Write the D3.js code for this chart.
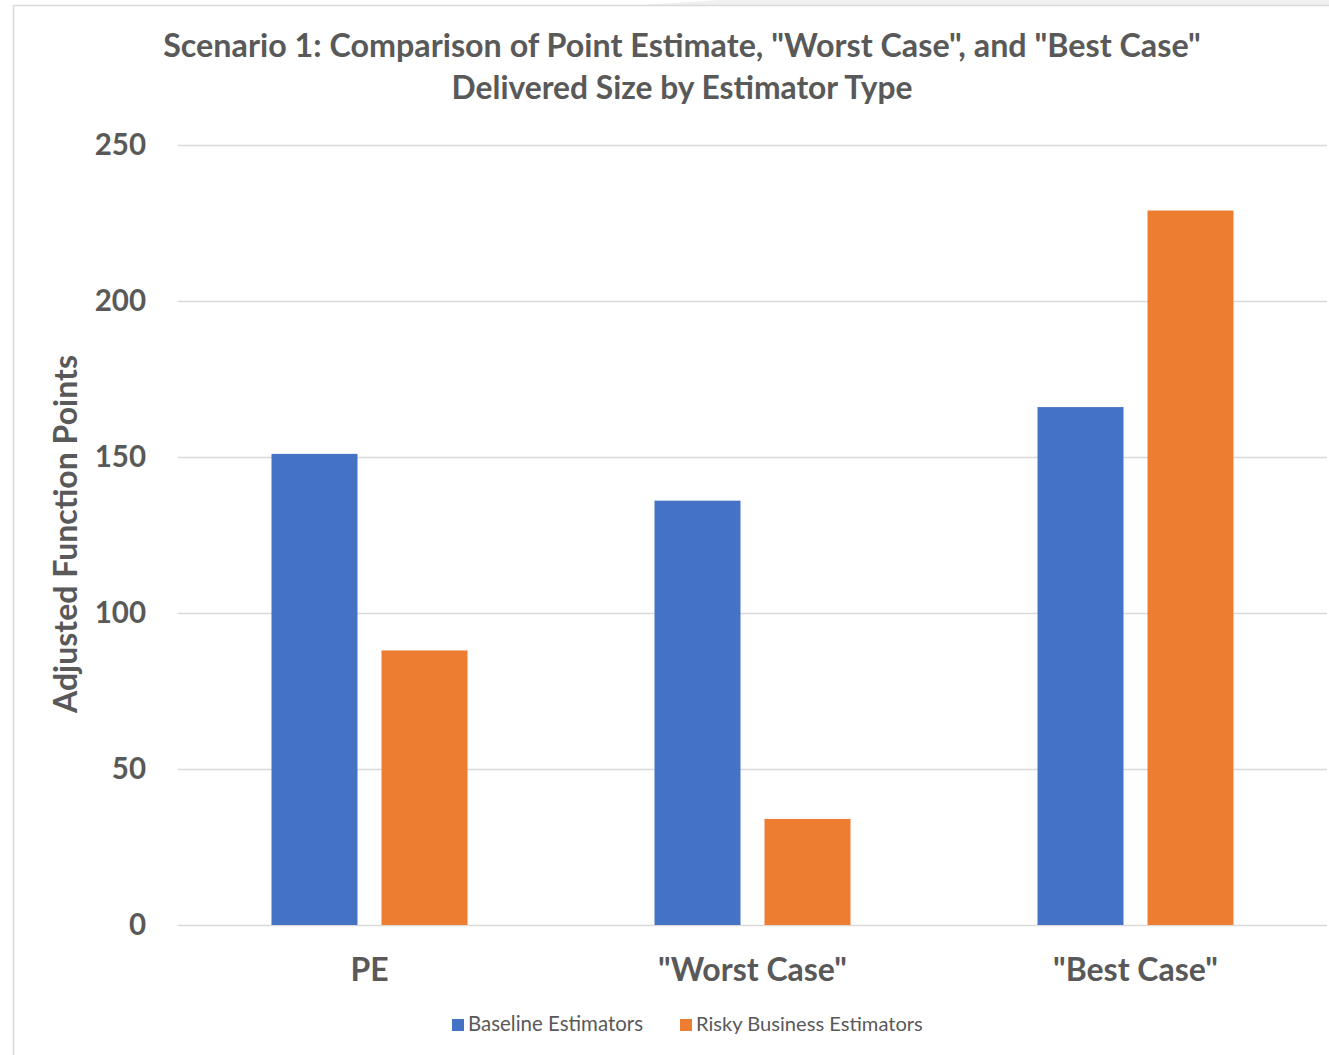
<!DOCTYPE html>
<html>
<head>
<meta charset="utf-8">
<script src="https://cdn.jsdelivr.net/npm/d3@7"></script>
<style>
  html, body { margin: 0; padding: 0; background: #fff; }
  svg { display: block; }
  text { font-family: Lato, "Open Sans", "Liberation Sans", sans-serif; fill: #595959; }
</style>
</head>
<body>
<svg id="chart" width="1329" height="1055"></svg>
<script>
// Delivered size (adjusted function points) per estimate type and estimator group
const categories = ['PE', '"Worst Case"', '"Best Case"'];
const seriesNames = ['Baseline Estimators', 'Risky Business Estimators'];
const baselineValues = [151, 136, 166];
const riskyValues = [88, 34, 229];
const yTicks = [0, 50, 100, 150, 200, 250];
const seriesColors = ['#4472c4', '#ed7d31'];

const titleLines = ['Scenario 1: Comparison of Point Estimate, "Worst Case", and "Best Case"',
                    'Delivered Size by Estimator Type'];
const yAxisTitle = 'Adjusted Function Points';

const rows = categories.map((c, i) => ({ cat: c, values: [baselineValues[i], riskyValues[i]] }));

const svg = d3.select('#chart');
const W = 1329, H = 1055;
const plot = { left: 178, right: 1327, top: 145, bottom: 925 };

// scale a text's font size so that it spans the given width
function fit(sel, width) {
  const fs = parseFloat(sel.attr('font-size'));
  const len = sel.node().getComputedTextLength();
  sel.attr('font-size', (fs * width / len).toFixed(2));
  return sel;
}

// chart frame: top strip, border lines
svg.append('rect').attr('x', 610).attr('y', 0).attr('width', W - 610).attr('height', 5).attr('fill', '#f0f0f0');
svg.append('path').attr('d', 'M600,0 L720,0 L640,5 L600,5 Z').attr('fill', '#fff');
svg.append('line').attr('x1', 13).attr('x2', W).attr('y1', 5.5).attr('y2', 5.5)
  .attr('stroke', '#d9d9d9').attr('stroke-width', 1.5);
svg.append('line').attr('x1', 13.5).attr('x2', 13.5).attr('y1', 5).attr('y2', H)
  .attr('stroke', '#d9d9d9').attr('stroke-width', 1.5);

const x0 = d3.scaleBand().domain(categories).range([plot.left, plot.right]).padding(0);
const step = x0.step();
const barW = step * 0.2245;
const barGap = step * 0.0627;
const groupW = 2 * barW + barGap;
const x1 = d3.scaleOrdinal().domain([0, 1]).range([0, barW + barGap]);

const y = d3.scaleLinear().domain([0, 250]).range([plot.bottom, plot.top]);

// gridlines and value labels
const yAxis = d3.axisLeft(y).tickValues(yTicks).tickSize(-(plot.right - plot.left)).tickPadding(32);
const gy = svg.append('g').attr('transform', `translate(${plot.left},0)`).call(yAxis);
gy.select('.domain').remove();
gy.selectAll('.tick line').attr('stroke', '#d9d9d9').attr('stroke-width', 1.5);
gy.selectAll('.tick text')
  .attr('font-size', 29.5).attr('font-weight', 700).attr('fill', '#595959')
  .style('font-family', 'Lato, sans-serif');

// bars
const groups = svg.append('g').selectAll('g').data(rows).join('g')
  .attr('transform', d => `translate(${x0(d.cat) + (step - groupW) / 2},0)`);
groups.selectAll('rect').data(d => d.values.map((v, i) => ({ v, i }))).join('rect')
  .attr('x', d => x1(d.i))
  .attr('y', d => y(d.v))
  .attr('width', barW)
  .attr('height', d => y(0) - y(d.v))
  .attr('fill', d => seriesColors[d.i]);

// category labels
const xAxis = d3.axisBottom(x0).tickSize(0).tickPadding(33);
const gx = svg.append('g').attr('transform', `translate(0,${plot.bottom})`).call(xAxis);
gx.select('.domain').remove();
gx.selectAll('.tick text')
  .attr('font-size', 32).attr('font-weight', 700).attr('fill', '#595959')
  .style('font-family', 'Lato, sans-serif');

// title
const t1 = svg.append('text').attr('x', 682).attr('y', 57).attr('text-anchor', 'middle')
  .attr('font-size', 28).attr('font-weight', 700).text(titleLines[0]);
fit(t1, 1038);
const t2 = svg.append('text').attr('x', 682).attr('y', 99).attr('text-anchor', 'middle')
  .attr('font-size', 28).attr('font-weight', 700).text(titleLines[1]);
fit(t2, 461);

// y axis title
const yt = svg.append('text')
  .attr('transform', `translate(77,534) rotate(-90)`)
  .attr('text-anchor', 'middle').attr('font-size', 28).attr('font-weight', 700)
  .text(yAxisTitle);
fit(yt, 358);

// legend
const legendX = [452, 680];
const legendW = [175, 227];
const lg = svg.append('g').selectAll('g').data(seriesNames).join('g')
  .attr('transform', (d, i) => `translate(${legendX[i]},1019)`);
lg.append('rect').attr('width', 12).attr('height', 12).attr('fill', (d, i) => seriesColors[i]);
lg.append('text').attr('x', 16).attr('y', 12).attr('font-size', 19)
  .text(d => d)
  .each(function (d, i) { fit(d3.select(this), legendW[i]); });
</script>
</body>
</html>
